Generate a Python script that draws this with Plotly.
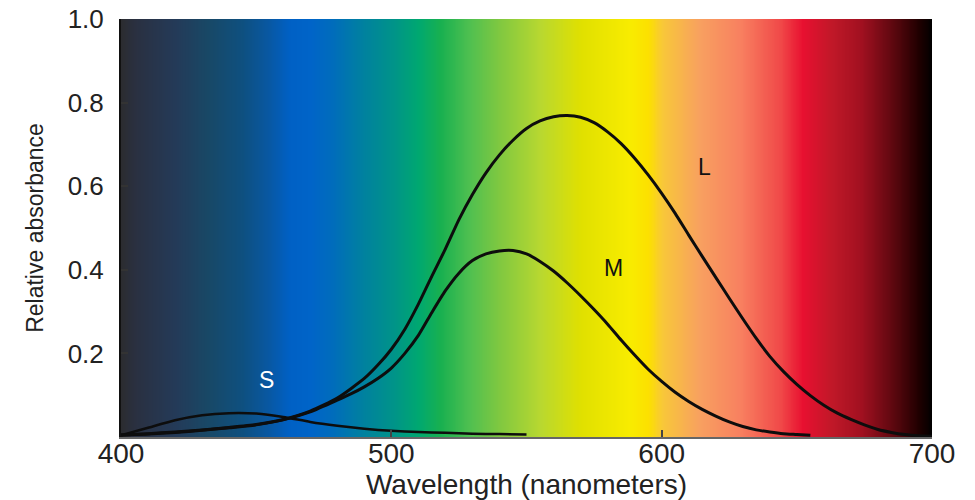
import numpy as np
import plotly.graph_objects as go

# ---- data ----
L_nm = [400,410,420,430,440,450,460,470,480,490,495,500,505,510,515,520,525,530,535,540,
        545,550,555,560,565,570,575,580,585,590,595,600,605,610,615,620,625,630,635,640,
        645,650,655,660,665,670,675,680,685,690,695,700]
L_val = [0.005,0.008,0.012,0.017,0.023,0.03,0.042,0.062,0.093,0.14,0.172,0.21,0.258,0.318,0.385,0.45,0.52,0.58,0.632,0.675,
         0.71,0.738,0.756,0.766,0.769,0.765,0.752,0.73,0.702,0.667,0.627,0.583,0.535,0.483,0.432,0.382,0.332,0.283,0.236,0.193,
         0.157,0.126,0.099,0.076,0.057,0.042,0.029,0.018,0.011,0.006,0.003,0.002]

M_nm = [400,410,420,430,440,450,460,470,480,485,490,495,500,505,510,515,520,525,530,
        535,540,545,550,555,560,565,570,575,580,585,590,595,600,605,610,615,620,625,630,
        635,640,645,650,655]
M_val = [0.005,0.007,0.011,0.016,0.022,0.029,0.041,0.06,0.088,0.103,0.12,0.14,0.165,0.2,0.243,0.298,0.35,0.392,0.422,
         0.438,0.445,0.446,0.438,0.42,0.397,0.369,0.338,0.305,0.27,0.232,0.196,0.162,0.133,0.107,0.085,0.066,0.05,0.036,0.025,
         0.017,0.012,0.008,0.006,0.004]

S_nm = [400,410,420,430,440,450,460,470,480,490,500,510,520,530,540,550]
S_val = [0.004,0.022,0.04,0.052,0.057,0.056,0.048,0.036,0.027,0.02,0.015,0.012,0.01,0.008,0.007,0.006]

x_ticks = [400, 500, 600, 700]
y_ticks = [0.2, 0.4, 0.6, 0.8, 1.0]
y_ticktext = ["0.2", "0.4", "0.6", "0.8", "1.0"]

# spectrum background colour stops (wavelength, colour)
spec_nm = [400, 405, 420, 432, 445, 455, 462, 470, 478, 489, 501, 510, 518, 529, 540, 555,
           570, 588, 595, 600, 614, 629, 644, 652, 663, 674, 685, 695, 700]
spec_col = ["#2b2c30", "#2a3040", "#243a58", "#184866", "#0e5080", "#0858a4", "#0060c4", "#0064c8",
            "#006cbc", "#0080a0", "#009488", "#00a870", "#18b050", "#50c050", "#80c840", "#b8d830",
            "#e0e000", "#f8ec00", "#fce000", "#f8c838", "#f8a060", "#f88060", "#f04848", "#e81030",
            "#c01828", "#a01020", "#600810", "#200000", "#000000"]

colorscale = [[(w - 400) / 300, c] for w, c in zip(spec_nm, spec_col)]
bg_x = np.arange(400, 701, 1)

fig = go.Figure()
fig.add_trace(go.Heatmap(
    x=bg_x, y=[0, 1], z=[bg_x, bg_x], zmin=400, zmax=700,
    colorscale=colorscale, showscale=False, hoverinfo="skip", zsmooth="best"))

line_col = "#0d0d0d"
fig.add_trace(go.Scatter(x=S_nm, y=S_val, mode="lines", line=dict(color=line_col, width=2.5, shape="spline", smoothing=0.6), name="S"))
fig.add_trace(go.Scatter(x=M_nm, y=M_val, mode="lines", line=dict(color=line_col, width=3, shape="spline", smoothing=0.6), name="M"))
fig.add_trace(go.Scatter(x=L_nm, y=L_val, mode="lines", line=dict(color=line_col, width=3, shape="spline", smoothing=0.6), name="L"))

font_family = "Liberation Sans, Arial, sans-serif"
fig.add_annotation(x=616, y=0.645, text="L", showarrow=False, font=dict(family=font_family, size=23, color="#111111"))
fig.add_annotation(x=582, y=0.405, text="M", showarrow=False, font=dict(family=font_family, size=23, color="#111111"))
fig.add_annotation(x=454, y=0.137, text="S", showarrow=False, font=dict(family=font_family, size=23, color="#ffffff"))

fig.update_layout(
    width=975, height=500,
    margin=dict(l=121, r=43, t=19, b=63),
    paper_bgcolor="white", plot_bgcolor="white",
    showlegend=False,
    font=dict(family=font_family, color="#222222"),
    xaxis=dict(range=[400, 700], tickvals=x_ticks, ticks="inside", ticklen=7, tickcolor="#444444", tickwidth=1.5,
               showline=True, linecolor="#666666", linewidth=2, showgrid=False, zeroline=False, automargin=False,
               tickfont=dict(size=28, color="#222222"), ticklabelstandoff=-10, ticklabeloverflow="allow",
               title=dict(text="Wavelength (nanometers)", font=dict(size=28, color="#222222"), standoff=12)),
    yaxis=dict(range=[0, 1], tickvals=y_ticks, ticktext=y_ticktext, ticks="inside", ticklen=7, tickcolor="#333333",
               tickwidth=1.5, showline=True, linecolor="#111111", linewidth=2, showgrid=False, zeroline=False,
               automargin=False, ticklabeloverflow="allow",
               tickfont=dict(size=26, color="#222222"), ticklabelstandoff=10,
               title=dict(text="Relative absorbance", font=dict(size=23, color="#222222"), standoff=18)),
)

fig.write_html("out.html", config={"displayModeBar": False},
               post_script="document.body.style.margin='0';document.body.style.overflow='hidden';")
